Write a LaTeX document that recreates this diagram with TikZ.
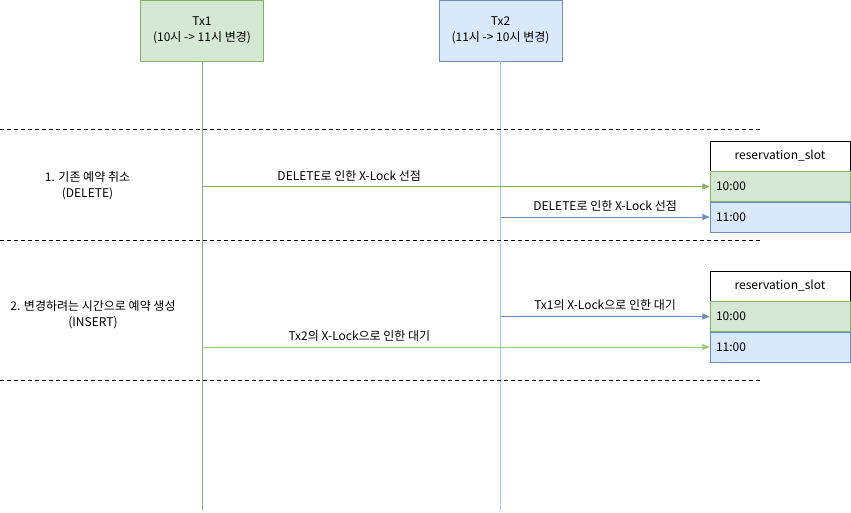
\documentclass[tikz,border=0pt]{standalone}
\usepackage{fontspec}
\setmainfont{Noto Sans CJK KR}
\usetikzlibrary{arrows.meta,positioning,calc}
\definecolor{txgreen}{RGB}{213,232,212}
\definecolor{txgreenline}{RGB}{130,179,102}
\definecolor{lightgreenline}{RGB}{151,208,119}
\definecolor{txblue}{RGB}{218,232,252}
\definecolor{txblueline}{RGB}{108,142,191}
\definecolor{lifeblue}{RGB}{169,196,235}

\tikzset{
    txbox/.style={draw, minimum width=92.25pt, minimum height=45.75pt, align=center, font=\fontsize{9}{12}\selectfont},
    headbox/.style={draw, minimum width=105pt, minimum height=22.5pt, font=\fontsize{9}{12}\selectfont},
    rowbox/.style={draw, minimum height=22.5pt, text width=96pt, inner xsep=4.5pt, align=left, font=\fontsize{9}{12}\selectfont},
    msg/.style={-{Triangle[length=5.5pt,width=4.5pt]}, line width=0.6pt},
    lbl/.style={font=\fontsize{9}{12}\selectfont, inner sep=1pt},
    sep/.style={dash pattern=on 3pt off 2.25pt, line width=0.6pt}
}

\begin{document}
\begin{tikzpicture}[x=0.75pt, y=-0.75pt]
    \useasboundingbox (0,0) rectangle (851,513);

    % Transactions
    \node[txbox, fill=txgreen, draw=txgreenline] (tx1) at (202,30.5) {Tx1\\(10시 -> 11시 변경)};
    \node[txbox, fill=txblue, draw=txblueline] (tx2) at (500.5,30.5) {Tx2\\(11시 -> 10시 변경)};
    \coordinate (tx1end) at (202,510);
    \coordinate (tx2end) at (500.5,510);
    \draw[txgreenline, line width=0.6pt] (tx1) -- (tx1end);
    \draw[lifeblue, line width=0.6pt] (tx2) -- (tx2end);

    % Phase separators
    \foreach \y in {129, 240, 380} {
        \draw[sep] (0,\y) -- (760,\y);
    }

    % Phase labels
    \node[lbl, align=center] (phase1) at (87.5,185.5) {1. 기존 예약 취소\\(DELETE)};
    \node[lbl, align=center] (phase2) at (93,315) {2. 변경하려는 시간으로 예약 생성\\(INSERT)};

    % Table 1
    \node[headbox, fill=white] (head1) at (780,156) {reservation\_slot};
    \node[rowbox, fill=txgreen, draw=txgreenline, below=0pt of head1] (slota1) {10:00};
    \node[rowbox, fill=txblue, draw=txblueline, below=0pt of slota1] (slotb1) {11:00};

    % Table 2
    \node[headbox, fill=white] (head2) at (780,286) {reservation\_slot};
    \node[rowbox, fill=txgreen, draw=txgreenline, below=0pt of head2] (slota2) {10:00};
    \node[rowbox, fill=txblue, draw=txblueline, below=0pt of slota2] (slotb2) {11:00};

    % Phase 1 messages
    \draw[msg, txgreenline] (tx1.south |- slota1.west) -- (slota1.west)
        node[lbl, black, pos=0.29, above=3pt] {DELETE로 인한 X-Lock 선점};
    \draw[msg, txblueline] (tx2.south |- slotb1.west) -- (slotb1.west)
        node[lbl, black, midway, above=3pt] {DELETE로 인한 X-Lock 선점};

    % Phase 2 messages
    \draw[msg, txblueline] (tx2.south |- slota2.west) -- (slota2.west)
        node[lbl, black, midway, above=3pt] {Tx1의 X-Lock으로 인한 대기};
    \draw[msg, lightgreenline] (tx1.south |- slotb2.west) -- (slotb2.west)
        node[lbl, black, pos=0.31, above=3pt] {Tx2의 X-Lock으로 인한 대기};

\end{tikzpicture}
\end{document}
